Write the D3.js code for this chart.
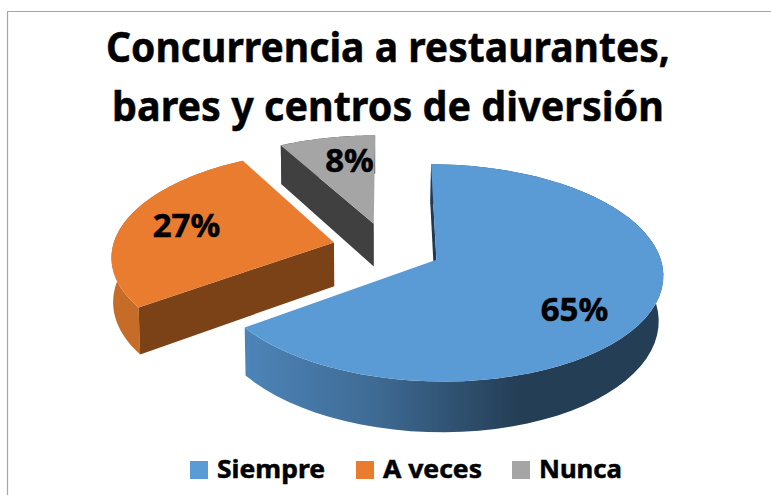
<!DOCTYPE html>
<html>
<head>
<meta charset="utf-8">
<style>
  html, body { margin: 0; padding: 0; background: #fff; }
  svg { display: block; }
  text { font-family: "Noto Sans", "Open Sans", sans-serif; font-weight: 700; fill: #000; stroke: #000; stroke-width: 0.5; }
</style>
</head>
<body>
<svg></svg>
<script src="https://cdn.jsdelivr.net/npm/d3@7"></script>
<script>
// chart data
const categories = ["Siempre", "A veces", "Nunca"];
const values = [65, 27, 8];
const titleLines = ["Concurrencia a restaurantes,", "bares y centros de diversión"];

let width = 771, height = 495;

// colours per slice: top face, radial wall
const topColors = ["#5b9bd5", "#ea7c30", "#a5a5a5"];
const wallColors = ["#1f3a52", "#7a4216", "#404040"];
const rimColors = ["url(#blueRim)", "#c56d28", "#404040"];

// perspective of the pie plane
const X0 = 387, Y0 = 248, radiusX = 221.5, radiusY = 104.2, persp = 0.119;
const thick = 44, shrink = 0.012, explode = 0.247;

let svg = d3.select("svg").attr("width", width).attr("height", height);

function project(u, v, h) {
  let s = 1 - persp * v;
  // the lower plane shrinks a little more on the right than on the left
  let k = u > 0 ? shrink * 1.4 : shrink * 0.5;
  return [X0 + radiusX * (1 - h * k) * u / s, Y0 + radiusY * v / s + h * thick / s];
}

let defs = svg.append("defs");
let rim = defs.append("linearGradient")
  .attr("id", "blueRim")
  .attr("gradientUnits", "userSpaceOnUse")
  .attr("x1", 246).attr("x2", 520).attr("y1", 0).attr("y2", 0);
rim.append("stop").attr("offset", 0).attr("stop-color", "#4d84b8");
rim.append("stop").attr("offset", 0.45).attr("stop-color", "#3f6c96");
rim.append("stop").attr("offset", 1).attr("stop-color", "#243e55");

// frame of the picture
svg.append("path")
  .attr("d", d3.line()([[7.5, height], [7.5, 11.5], [width, 11.5]]))
  .attr("fill", "none")
  .attr("stroke", "#a6a6a6")
  .attr("stroke-width", 1.2);

// slices
let pie = d3.pie().sort(null).value(d => d);
let arcs = pie(values);
let line = d3.line();

// draw back to front: gray, orange, blue
let order = [2, 1, 0];
order.forEach(function(i) {
  let d = arcs[i];
  let mid = (d.startAngle + d.endAngle) / 2;
  let cu = explode * Math.sin(mid), cv = -explode * Math.cos(mid);
  let angles = d3.range(0, 61).map(t => d.startAngle + (d.endAngle - d.startAngle) * t / 60);
  let edge = h => angles.map(a => project(cu + Math.sin(a), cv - Math.cos(a), h));
  let apex = h => project(cu, cv, h);

  let g = svg.append("g");

  // outer rim
  g.append("path")
    .attr("d", line(edge(0).concat(edge(1).reverse())) + "Z")
    .attr("fill", rimColors[i]);

  // radial wall at the start angle
  g.append("path")
    .attr("d", line([edge(0)[0], apex(0), apex(1), edge(1)[0]]) + "Z")
    .attr("fill", wallColors[i]);

  // top face
  g.append("path")
    .attr("d", line([apex(0)].concat(edge(0))) + "Z")
    .attr("fill", topColors[i]);
});

// percent labels
const labelPos = [[574.5, 321], [186.5, 237], [349.5, 172]];
svg.selectAll(".pct")
  .data(values)
  .enter().append("text")
  .attr("class", "pct")
  .attr("x", (d, i) => labelPos[i][0])
  .attr("y", (d, i) => labelPos[i][1])
  .attr("text-anchor", "middle")
  .attr("font-size", 33)
  .text(d => d + "%");

// title
svg.selectAll(".title")
  .data(titleLines)
  .enter().append("text")
  .attr("class", "title")
  .attr("x", 388)
  .attr("y", (d, i) => 62 + i * 59)
  .attr("text-anchor", "middle")
  .attr("font-size", 42)
  .attr("textLength", (d, i) => i === 0 ? 564 : 552)
  .attr("lengthAdjust", "spacingAndGlyphs")
  .text(d => d);

// legend
const legendX = [190, 356, 512];
const legendW = [108, 99, 83];
let legend = svg.selectAll(".legend")
  .data(categories)
  .enter().append("g")
  .attr("class", "legend")
  .attr("transform", (d, i) => "translate(" + legendX[i] + ",461)");
legend.append("rect")
  .attr("width", 18)
  .attr("height", 18)
  .attr("fill", (d, i) => topColors[i]);
legend.append("text")
  .attr("x", 27)
  .attr("y", 17)
  .attr("font-size", 25)
  .attr("textLength", (d, i) => legendW[i])
  .attr("lengthAdjust", "spacingAndGlyphs")
  .text(d => d);
</script>
</body>
</html>
